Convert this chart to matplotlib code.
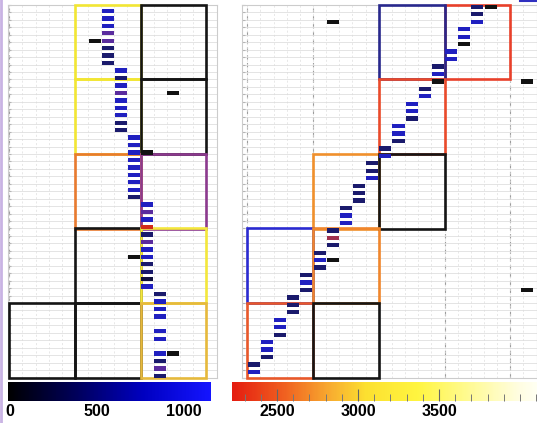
import numpy as np
import matplotlib
import matplotlib.pyplot as plt
from matplotlib.patches import Rectangle
from matplotlib.colors import LinearSegmentedColormap, Normalize
from matplotlib.cm import ScalarMappable
from matplotlib.ticker import MultipleLocator
from matplotlib.lines import Line2D

# ---- left panel: one dash per row (row index, slot index, colour code)
left_rows = [0, 1, 2, 3, 4, 5, 6, 7,
             8, 9, 10, 11, 12, 13, 14, 15, 16,
             17, 18, 19, 20, 21, 22, 23, 24, 25,
             26, 27, 28, 29, 30, 31, 32, 33, 34, 35, 36, 37,
             38, 39, 40, 41, 43, 44, 46, 47, 48, 49]
left_slot = [7, 7, 7, 7, 7, 7, 7, 7,
             8, 8, 8, 8, 8, 8, 8, 8, 8,
             9, 9, 9, 9, 9, 9, 9, 9, 9,
             10, 10, 10, 10, 10, 10, 10, 10, 10, 10, 10, 10,
             11, 11, 11, 11, 11, 11, 11, 11, 11, 11]
left_code = ["b", "b", "b", "p", "p", "n", "n", "n",
             "b", "n", "b", "p", "b", "b", "b", "n", "n",
             "b", "b", "b", "b", "b", "b", "b", "b", "n",
             "b", "p", "b", "r", "n", "p", "b", "b", "n", "n", "d", "b",
             "n", "b", "b", "b", "b", "b", "b", "n", "p", "n"]
left_extra_rows = [4, 11, 19, 33, 46]
left_extra_slot = [6, 12, 10, 9, 12]

# blocks (column, block row, edge colour) in drawing order
left_box_col = [1, 1, 2, 2, 1, 2, 1, 1, 0, 2, 2]
left_box_blk = [0, 1, 0, 1, 2, 2, 3, 4, 4, 3, 4]
left_box_color = ["#f2e633", "#f2e633", "#151515", "#151515", "#e87a2e", "#8c3a8e",
                  "#151515", "#151515", "#151515", "#f4e73c", "#e6b93c"]

# ---- right panel
right_rows = [0, 1, 2, 3, 4, 5, 6, 7, 8, 9,
              10, 11, 12, 13, 14, 15, 16, 17, 18, 19,
              20, 21, 22, 23, 24, 25, 26, 27, 28, 29,
              30, 31, 32, 33, 34, 35, 36, 37, 38, 39,
              40, 41, 42, 43, 44, 45, 46, 47, 48, 49]
right_slot = [17, 17, 17, 16, 16, 16, 15, 15, 14, 14,
              14, 13, 13, 12, 12, 12, 11, 11, 11, 10,
              10, 9, 9, 9, 8, 8, 8, 7, 7, 7,
              6, 6, 6, 5, 5, 5, 4, 4, 4, 3,
              3, 3, 2, 2, 2, 1, 1, 1, 0, 0]
right_code = ["n", "n", "b", "b", "b", "k", "b", "b", "n", "b",
              "k", "n", "b", "b", "b", "n", "b", "b", "n", "n",
              "b", "n", "n", "b", "n", "n", "n", "n", "b", "b",
              "n", "m", "n", "n", "b", "n", "n", "b", "n", "n",
              "n", "n", "b", "b", "n", "b", "b", "n", "n", "b"]
right_extra_rows = [0, 2, 10, 34, 38]
right_extra_slot = [18, 6, 20.8, 6, 20.8]

right_box_col = [3, 2, 2, 1, 2, 0, 1, 0, 1]
right_box_blk = [0, 0, 1, 2, 2, 3, 3, 4, 4]
right_box_color = ["#e8402a", "#28288c", "#ea4a2a", "#f0902c", "#151515",
                   "#2a2ad0", "#f0862c", "#e8582a", "#151515"]

# colour bars
left_cb_range = (-12, 1155)
left_cb_ticks = [0, 500, 1000]
right_cb_range = (2222, 4105)
right_cb_ticks = [2500, 3000, 3500]

dash_colors = {"b": "#2020c0", "n": "#1a1a6c", "p": "#5a2c9e", "d": "#10103c",
               "k": "#121212", "r": "#d22a1a", "m": "#a0304e"}

W, H = 537, 423
fig = plt.figure(figsize=(W / 100, H / 100), dpi=100)


def px_axes(x0, y0, x1, y1):
    return fig.add_axes([x0 / W, 1 - y1 / H, (x1 - x0) / W, (y1 - y0) / H])


def draw_panel(ax, xlim, rows, slots, codes, ex_rows, ex_slots, bcol, bblk, bcolor, off):
    ax.set_xlim(*xlim)
    ax.set_ylim(50, 0)
    ax.set_xticks(np.arange(0, xlim[1], 1))
    ax.set_yticks(np.arange(0, 51, 1))
    ax.tick_params(axis='x', length=0, labelbottom=False)
    ax.tick_params(axis='y', direction='in', length=2.5, color='#b5b5b5', labelleft=False)
    ax.grid(axis='y', color='#dcdcdc', lw=0.55)
    ax.grid(axis='x', color='#dedede', lw=0.5, ls=(0, (3, 3)))
    for xv in range(0, int(xlim[1]) + 1, 5):
        ax.axvline(xv, color='#9c9c9c', lw=0.8, ls=(0, (4, 3)), zorder=1)
    for s in ax.spines.values():
        s.set_color('#cccccc')
        s.set_linewidth(0.8)
    for c, b, col in zip(bcol, bblk, bcolor):
        ax.add_patch(Rectangle((c * 5, b * 10), 5, 10, fill=False, ec=col, lw=1.9,
                               zorder=3, clip_on=False))
    ax.barh([r + off for r in rows], 0.92, left=[s + 0.04 for s in slots], height=0.58,
            color=[dash_colors[c] for c in codes], zorder=5)
    ax.barh([r + off for r in ex_rows], 0.92, left=[s + 0.04 for s in ex_slots], height=0.58,
            color='#121212', zorder=4)


axL = px_axes(8, 5, 217, 377.5)
draw_panel(axL, (-0.1, 15.83), left_rows, left_slot, left_code,
           left_extra_rows, left_extra_slot, left_box_col, left_box_blk, left_box_color, 0.8)

axR = px_axes(242, 5, 537, 377.5)
draw_panel(axR, (-0.4, 22.03), right_rows, right_slot, right_code,
           right_extra_rows, right_extra_slot, right_box_col, right_box_blk, right_box_color, 0.25)

cmap_left = LinearSegmentedColormap.from_list("kb", ["#000000", "#00005a", "#0000c0", "#1414ff"])
cmap_right = LinearSegmentedColormap.from_list(
    "ry", [(0.0, "#e41c10"), (0.17, "#f06020"), (0.33, "#f8b030"), (0.44, "#fce030"),
           (0.61, "#fff540"), (0.77, "#fffa90"), (0.94, "#fffde0"), (1.0, "#fffff2")])

cbL = px_axes(8, 382, 211, 401)
cb1 = fig.colorbar(ScalarMappable(Normalize(*left_cb_range), cmap_left), cax=cbL,
                   orientation='horizontal', ticks=left_cb_ticks)
cb1.outline.set_visible(False)
cbL.tick_params(length=0, pad=2)

cbR = px_axes(232, 382, 537, 401)
cb2 = fig.colorbar(ScalarMappable(Normalize(*right_cb_range), cmap_right), cax=cbR,
                   orientation='horizontal', ticks=right_cb_ticks)
cb2.outline.set_visible(False)
cbR.xaxis.set_minor_locator(MultipleLocator(100))
cbR.tick_params(which='major', direction='in', length=9, width=0.8, color='#666666', pad=2)
cbR.tick_params(which='minor', direction='in', length=5, width=0.7, color='#777777')

for cax in (cbL, cbR):
    for t in cax.get_xticklabels():
        t.set_fontfamily("Liberation Sans")
        t.set_fontweight("bold")
        t.set_fontsize(11.5)

# lavender edge on the left and the blue scrap at the top right of the screenshot
fig.add_artist(Line2D([0.002, 0.002], [0, 1], color='#c9b3e3', lw=2, transform=fig.transFigure))
fig.add_artist(Line2D([520 / W, 1.0], [1 - 1 / H, 1 - 1 / H], color='#3030c0', lw=1.5,
                      transform=fig.transFigure))

fig.savefig("out.png", dpi=100)
